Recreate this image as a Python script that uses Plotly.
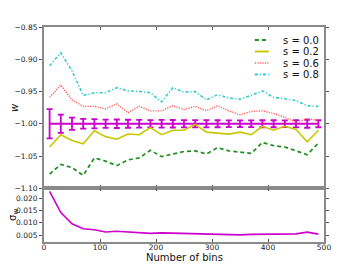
import plotly.graph_objects as go
from plotly.subplots import make_subplots

# ---- data ----
nbins = [10, 30, 50, 70, 90, 110, 130, 150, 170, 190, 210, 230, 250,
         270, 290, 310, 330, 350, 370, 390, 410, 430, 450, 470, 490]

w_s00 = [-1.078, -1.063, -1.068, -1.080, -1.053, -1.058, -1.065, -1.056, -1.053,
         -1.041, -1.051, -1.047, -1.043, -1.042, -1.047, -1.037, -1.042, -1.044,
         -1.046, -1.029, -1.034, -1.036, -1.042, -1.048, -1.030]
w_s02 = [-1.036, -1.017, -1.026, -1.031, -1.011, -1.020, -1.024, -1.016, -1.017,
         -1.006, -1.017, -1.010, -1.010, -1.001, -1.013, -1.014, -1.016, -1.013,
         -1.017, -1.004, -1.010, -1.004, -1.009, -1.028, -1.010]
w_s06 = [-0.959, -0.940, -0.963, -0.973, -0.973, -0.977, -0.969, -0.983, -0.973,
         -0.980, -0.980, -0.972, -0.978, -0.973, -0.980, -0.972, -0.980, -0.986,
         -0.981, -0.980, -0.984, -0.990, -0.998, -0.992, -0.995]
w_s08 = [-0.910, -0.890, -0.918, -0.956, -0.952, -0.952, -0.944, -0.949, -0.950,
         -0.952, -0.966, -0.944, -0.951, -0.950, -0.963, -0.955, -0.960, -0.962,
         -0.956, -0.949, -0.959, -0.961, -0.964, -0.972, -0.973]
w_true = [-1.0] * len(nbins)
sigma_w = [0.0228, 0.0142, 0.0096, 0.0076, 0.0072, 0.0063, 0.0066, 0.0062, 0.0061,
           0.0057, 0.0059, 0.0058, 0.0055, 0.0057, 0.0055, 0.0054, 0.0053, 0.0051,
           0.0053, 0.0054, 0.0054, 0.0053, 0.0055, 0.0062, 0.0054]

series_names = ["s = 0.0", "s = 0.2", "s = 0.6", "s = 0.8"]

x_ticks = [0, 100, 200, 300, 400, 500]
w_ticks = [-1.10, -1.05, -1.00, -0.95, -0.90, -0.85]
sig_ticks = [0.005, 0.010, 0.015, 0.020]

x_label = "Number of bins"
w_label = "<i>w</i>"
sig_label = "σ<sub>w</sub>"

FONT = "DejaVu Sans"
FRAME = "#8a8a8a"
MAGENTA = "#cc00cc"

styles = [("#1f8f1f", "4px,3px", 1.7), ("#c8c800", "solid", 1.6),
          ("#ff5c5c", "1.2px,1.3px", 1.4), ("#33cccc", "3px,2px,1.2px,2px", 1.6)]

fig = make_subplots(rows=2, cols=1, shared_xaxes=True,
                    row_heights=[0.75, 0.25], vertical_spacing=0)

fig.add_trace(go.Scatter(x=nbins, y=w_true, mode="lines", showlegend=False,
                         line=dict(color=MAGENTA, width=2),
                         error_y=dict(type="data", array=sigma_w, visible=True,
                                      color=MAGENTA, thickness=1.8, width=3)),
              row=1, col=1)

for name, ys, (col, dash, lw) in zip(series_names, [w_s00, w_s02, w_s06, w_s08], styles):
    fig.add_trace(go.Scatter(x=nbins, y=ys, mode="lines", name=name, showlegend=False,
                             line=dict(color=col, dash=dash, width=lw)),
                  row=1, col=1)

fig.add_trace(go.Scatter(x=nbins, y=sigma_w, mode="lines", showlegend=False,
                         line=dict(color=MAGENTA, width=1.6)),
              row=2, col=1)

# ---- compact legend (matplotlib-like spacing) ----
leg_x0, leg_x1, leg_tx = 0.753, 0.803, 0.848
leg_y0, leg_dy = 0.9395, 0.0535
for i, (name, (col, dash, lw)) in enumerate(zip(series_names, styles)):
    yy = leg_y0 - i * leg_dy
    fig.add_shape(type="line", xref="paper", yref="paper",
                  x0=leg_x0, x1=leg_x1, y0=yy, y1=yy,
                  line=dict(color=col, dash=dash, width=lw + 0.3))
    fig.add_annotation(xref="paper", yref="paper", x=leg_tx, y=yy,
                       xanchor="left", yanchor="middle", showarrow=False,
                       text=name, font=dict(family=FONT, size=10, color="#111"))

# ---- axis labels ----
title_font = dict(family=FONT, size=10, color="#111")
fig.add_annotation(xref="paper", yref="paper", x=0.5, y=-0.074, showarrow=False,
                   xanchor="center", yanchor="middle", text=x_label, font=title_font)
fig.add_annotation(xref="paper", yref="paper", x=-0.105, y=0.626, showarrow=False,
                   xanchor="center", yanchor="middle", textangle=-90,
                   text=w_label, font=title_font)
fig.add_annotation(xref="paper", yref="paper", x=-0.107, y=0.126, showarrow=False,
                   xanchor="center", yanchor="middle", textangle=-90,
                   text=sig_label, font=title_font)

axis_common = dict(showline=True, linecolor=FRAME, linewidth=2, mirror="ticks",
                   showgrid=False, zeroline=False, tickcolor="#555",
                   tickfont=dict(family=FONT, size=7.5, color="#222"))

fig.update_xaxes(range=[0, 500], tickvals=x_ticks, ticks="inside", ticklen=3,
                 **axis_common)
fig.update_xaxes(showticklabels=False, row=1, col=1)
fig.update_xaxes(ticklabelstandoff=-3, row=2, col=1)

fig.update_yaxes(range=[-1.10, -0.85], tickvals=w_ticks, tickformat=".2f",
                 ticks="outside", ticklen=3, row=1, col=1, **axis_common)
fig.update_yaxes(range=[0.0022, 0.0241], tickvals=sig_ticks, tickformat=".3f",
                 ticks="outside", ticklen=3, row=2, col=1, **axis_common)

fig.update_layout(
    width=360, height=270,
    margin=dict(l=44, r=36, t=27, b=28),
    paper_bgcolor="white", plot_bgcolor="white",
    font=dict(family=FONT, size=10, color="#111"),
    showlegend=False,
)

fig.write_html("out.html", config={"displayModeBar": False},
               post_script="document.body.style.margin='0';document.body.style.padding='0';")
